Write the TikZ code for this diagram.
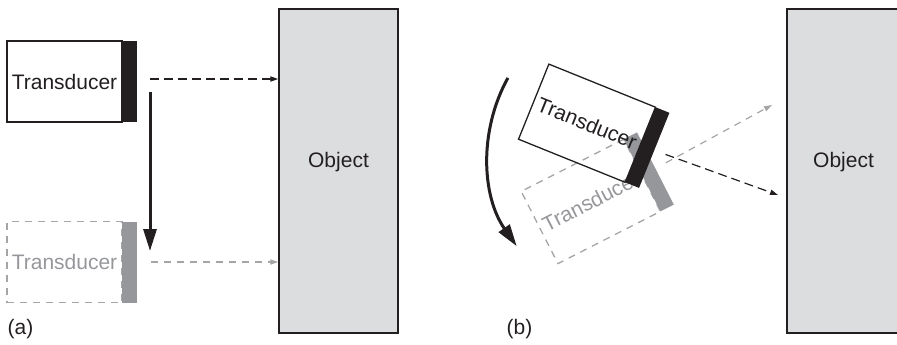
\documentclass[tikz,border=0pt]{standalone}
\usepackage{fontspec}
\setmainfont{Liberation Sans}
\usepackage{tikz}
\usetikzlibrary{arrows.meta, positioning, calc}
\usepackage{xcolor}
\definecolor{inkblack}{RGB}{35, 31, 32}
\definecolor{ghostgray}{RGB}{165, 165, 167}
\definecolor{bargray}{RGB}{150, 151, 155}
\definecolor{objectfill}{RGB}{220, 221, 223}

\tikzset{
  transducer/.style={draw=inkblack, line width=0.65pt, minimum width=57.5pt, minimum height=40.5pt,
    inner sep=0pt, outer sep=0pt, text=inkblack, font=\fontsize{10.5}{12.6}\selectfont},
  ghost/.style={transducer, draw=ghostgray, dash pattern=on 3.5pt off 3pt, text=bargray},
  face/.style={fill=inkblack, minimum width=7.5pt, minimum height=40.5pt, inner sep=0pt, outer sep=0pt},
  ghostface/.style={face, fill=bargray},
  object/.style={draw=inkblack, fill=objectfill, line width=0.75pt, minimum height=162pt, inner sep=0pt},
  objtext/.style={text=inkblack, font=\fontsize{10.5}{12.6}\selectfont, inner sep=0pt},
  tag/.style={text=inkblack, font=\fontsize{10.5}{12.6}\selectfont, inner sep=0pt},
  pulse/.style={draw=inkblack, line width=0.6pt, dash pattern=on 4.5pt off 2.5pt,
    -{Triangle[length=4pt, width=2.6pt]}},
  ghostpulse/.style={pulse, draw=ghostgray, dash pattern=on 3.5pt off 3pt},
  motion/.style={draw=inkblack, line width=1.5pt, -{Triangle[length=11pt, width=6.5pt]}}
}

\begin{document}
\begin{tikzpicture}[x=0.5pt, y=-0.5pt]

  % Frame
  \useasboundingbox (0,0) rectangle (897,344);
  \clip (0,0) rectangle (897,344);

  % (a) objects
  \node[object, minimum width=59.5pt] (objA) at (338.5, 171) {};
  \node[objtext] (objAtext) at ([yshift=4.5pt]objA.center) {Object};

  % (a) transducer, start and end position
  \node[transducer] (tdA) at (64.5, 81.5) {Transducer};
  \node[face, right=0pt of tdA] (faceA) {};
  \node[ghost] (gtdA) at (64.5, 262) {Transducer};
  \node[ghostface, right=0pt of gtdA] (gfaceA) {};

  % (a) beams and translation
  \draw[pulse] ([xshift=6.5pt, yshift=1.25pt]faceA.east) -- ([yshift=1.25pt]faceA.east -| objA.west);
  \draw[ghostpulse] ([xshift=7pt]gfaceA.east) -- (gfaceA.east -| objA.west);
  \coordinate (slideS) at (150, 92);
  \coordinate (slideE) at (150, 251);
  \draw[motion] (slideS) -- (slideE);

  % (b) object
  \node[object, minimum width=56.5pt] (objB) at (843.5, 171) {};
  \node[objtext] (objBtext) at ([yshift=4.5pt]objB.center) {Object};

  % (b) transducer, tilted
  \node[ghost, rotate=27] (gtdB) at (590.8, 201.4) {Transducer};
  \node[ghostface, rotate=27, right=0pt of gtdB] (gfaceB) {};
  \node[transducer, rotate=-22] (tdB) at (587.0, 123.2) {Transducer};
  \node[face, rotate=-22, right=0pt of tdB] (faceB) {};

  % (b) beams and rotation
  \coordinate (hitB) at (778, 195);
  \coordinate (missB) at (772, 105);
  \draw[pulse, shorten <=6pt] (faceB.east) -- (hitB);
  \draw[ghostpulse, shorten <=6pt] (gfaceB.east) -- (missB);
  \coordinate (swingS) at (507.9, 77.9);
  \draw[motion] (swingS) arc[start angle=209, end angle=145, radius=159];

  % Panel tags
  \node[tag] (tagA) at (20.5, 329) {(a)};
  \node[tag] (tagB) at (519.5, 329) {(b)};

\end{tikzpicture}
\end{document}
